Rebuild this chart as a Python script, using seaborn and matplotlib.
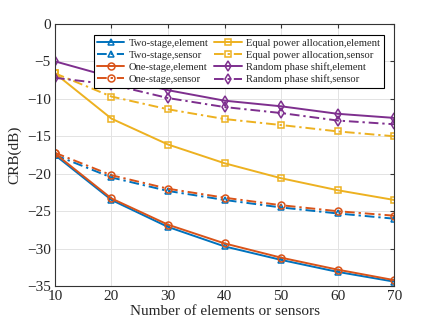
import numpy as np
import pandas as pd
import matplotlib
matplotlib.use("Agg")
import matplotlib.pyplot as plt
import seaborn as sns

# data
n_elements = [10, 20, 30, 40, 50, 60, 70]
two_stage_element = [-17.5, -23.5, -27.1, -29.7, -31.5, -33.1, -34.4]
two_stage_sensor = [-17.5, -20.5, -22.3, -23.5, -24.5, -25.3, -26.0]
one_stage_element = [-17.3, -23.3, -26.8, -29.3, -31.2, -32.8, -34.2]
one_stage_sensor = [-17.2, -20.2, -22.0, -23.2, -24.2, -25.0, -25.6]
equal_power_element = [-6.6, -12.65, -16.1, -18.6, -20.6, -22.2, -23.5]
equal_power_sensor = [-6.6, -9.7, -11.4, -12.7, -13.5, -14.35, -15.0]
random_phase_element = [-5.0, -7.1, -8.85, -10.25, -11.0, -12.0, -12.55]
random_phase_sensor = [-7.2, -8.1, -9.9, -11.1, -11.9, -12.9, -13.4]

series = [
    ("Two-stage,element", two_stage_element, "#0072BD", "-", "^"),
    ("Two-stage,sensor", two_stage_sensor, "#0072BD", "-.", "^"),
    ("One-stage,element", one_stage_element, "#D95319", "-", "o"),
    ("One-stage,sensor", one_stage_sensor, "#D95319", "-.", "o"),
    ("Equal power allocation,element", equal_power_element, "#EDB120", "-", "s"),
    ("Equal power allocation,sensor", equal_power_sensor, "#EDB120", "-.", "s"),
    ("Random phase shift,element", random_phase_element, "#7E2F8E", "-", "d"),
    ("Random phase shift,sensor", random_phase_sensor, "#7E2F8E", "-.", "d"),
]

sns.set_style("whitegrid")
plt.rcParams["font.family"] = ["Liberation Serif", "DejaVu Serif"]

fig = plt.figure(figsize=(4.36, 3.27), dpi=100)
ax = fig.add_axes([0.126, 0.125, 0.778, 0.802])

for name, vals, col, ls, mk in series:
    df = pd.DataFrame({"N": n_elements, "CRB": vals})
    sns.lineplot(data=df, x="N", y="CRB", ax=ax, color=col, linestyle=ls,
                 marker=mk, markersize=5, markerfacecolor="none",
                 markeredgecolor=col, markeredgewidth=1.1, linewidth=1.4,
                 label=name)

# matlab-like dash-dot pattern
for line in ax.get_lines():
    if line.get_linestyle() == "-.":
        line.set_dashes([5, 2, 1.2, 2])

ax.set_xlim(10, 70)
ax.set_ylim(-35, 0)
ax.set_xticks(n_elements)
ax.set_yticks(np.arange(-35, 1, 5))
ax.set_xlabel("Number of elements or sensors", fontsize=11, labelpad=1)
ax.set_ylabel("CRB(dB)", fontsize=11, labelpad=4)
ax.tick_params(axis="both", labelsize=11, direction="in", length=3,
               top=True, right=True, color="#333333", pad=3)
ax.grid(True, color="#e3e3e3", linewidth=0.7)
for sp in ax.spines.values():
    sp.set_color("#333333")
    sp.set_linewidth(0.8)

leg = ax.legend(ncol=2, loc="upper right", bbox_to_anchor=(0.975, 0.965),
                fontsize=7.6, frameon=True, fancybox=False, framealpha=1,
                edgecolor="black", handlelength=2.6, columnspacing=0.5,
                handletextpad=0.45, labelspacing=0.25, borderpad=0.3,
                borderaxespad=0.2)
leg.get_frame().set_linewidth(0.8)
for h in leg.get_lines():
    if h.get_linestyle() == "-.":
        h.set_dashes([5, 2, 1.2, 2])

fig.savefig("out.png", dpi=100)
